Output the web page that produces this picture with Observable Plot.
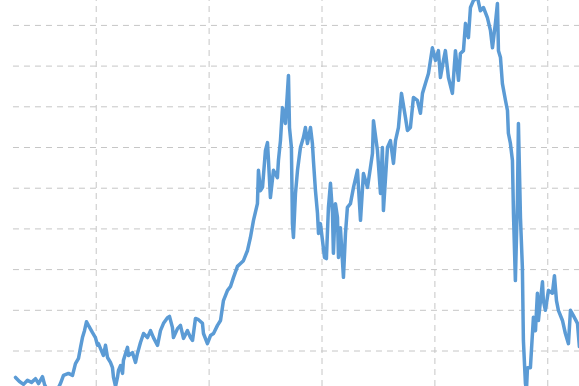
<!DOCTYPE html>
<html>
<head>
<meta charset="utf-8">
<script src="https://cdn.jsdelivr.net/npm/d3@7"></script>
<script src="https://cdn.jsdelivr.net/npm/@observablehq/plot@0.6"></script>
<style>
  html, body { margin: 0; padding: 0; background: #fff; overflow: hidden; }
  #chart svg { display: block; }
</style>
</head>
<body>
<div id="chart"></div>
<script>
// Time (fractional years) of each reading
const years = [
  2003.285, 2003.320, 2003.356, 2003.391, 2003.427, 2003.462, 2003.489, 2003.524, 2003.542, 2003.568,
  2003.613, 2003.648, 2003.683, 2003.710, 2003.754, 2003.790, 2003.816, 2003.843, 2003.861, 2003.878,
  2003.896, 2003.914, 2003.931, 2003.967, 2003.993, 2004.011, 2004.020, 2004.038, 2004.064, 2004.082,
  2004.100, 2004.126, 2004.144, 2004.153, 2004.171, 2004.188, 2004.197, 2004.215, 2004.233, 2004.241,
  2004.277, 2004.286, 2004.321, 2004.348, 2004.365, 2004.392, 2004.419, 2004.454, 2004.481, 2004.507,
  2004.543, 2004.569, 2004.596, 2004.631, 2004.649, 2004.675, 2004.684, 2004.720, 2004.746, 2004.773,
  2004.808, 2004.835, 2004.853, 2004.879, 2004.906, 2004.941, 2004.950, 2004.985, 2005.012, 2005.039,
  2005.074, 2005.101, 2005.127, 2005.163, 2005.189, 2005.216, 2005.251, 2005.278, 2005.304, 2005.340,
  2005.366, 2005.393, 2005.428, 2005.437, 2005.455, 2005.473, 2005.499, 2005.517, 2005.526, 2005.543,
  2005.570, 2005.605, 2005.614, 2005.632, 2005.650, 2005.676, 2005.703, 2005.712, 2005.729, 2005.738,
  2005.747, 2005.765, 2005.783, 2005.809, 2005.836, 2005.853, 2005.871, 2005.898, 2005.915, 2005.924,
  2005.942, 2005.960, 2005.969, 2005.986, 2006.004, 2006.022, 2006.039, 2006.057, 2006.075, 2006.093,
  2006.101, 2006.119, 2006.137, 2006.146, 2006.163, 2006.190, 2006.208, 2006.225, 2006.252, 2006.279,
  2006.314, 2006.341, 2006.367, 2006.403, 2006.429, 2006.447, 2006.456, 2006.491, 2006.518, 2006.535,
  2006.544, 2006.580, 2006.606, 2006.633, 2006.651, 2006.677, 2006.704, 2006.739, 2006.757, 2006.783,
  2006.810, 2006.845, 2006.872, 2006.890, 2006.916, 2006.943, 2006.978, 2007.005, 2007.031, 2007.049,
  2007.076, 2007.093, 2007.120, 2007.155, 2007.182, 2007.209, 2007.226, 2007.253, 2007.271, 2007.297,
  2007.315, 2007.341, 2007.377, 2007.403, 2007.430, 2007.465, 2007.492, 2007.510, 2007.536, 2007.554,
  2007.563, 2007.581, 2007.598, 2007.625, 2007.643, 2007.651, 2007.669, 2007.687, 2007.696, 2007.713,
  2007.731, 2007.740, 2007.758, 2007.775, 2007.784, 2007.802, 2007.811, 2007.820, 2007.846, 2007.873,
  2007.891, 2007.908, 2007.917, 2007.953, 2007.961, 2007.979, 2008.006, 2008.041, 2008.059, 2008.077,
  2008.094, 2008.130, 2008.156, 2008.183, 2008.201, 2008.227, 2008.263, 2008.280
];

// Series values
const values = [
  135, 125, 118, 128, 123, 132, 120, 137, 118, 103,
  96, 100, 120, 140, 145, 140, 169, 182, 209, 233,
  250, 272, 263, 245, 233, 214, 218, 206, 189, 214,
  184, 172, 159, 135, 113, 135, 152, 164, 145, 177,
  209, 189, 196, 172, 194, 221, 243, 233, 250, 233,
  214, 250, 268, 282, 285, 258, 233, 255, 263, 231,
  250, 233, 226, 280, 277, 268, 243, 218, 238, 243,
  263, 275, 324, 349, 358, 381, 408, 415, 422, 447,
  479, 521, 562, 644, 594, 602, 693, 712, 668, 577,
  644, 626, 668, 717, 798, 759, 877, 749, 700, 513,
  479, 587, 644, 700, 725, 749, 710, 749, 710, 668,
  594, 538, 489, 513, 472, 430, 427, 553, 612, 538,
  440, 562, 528, 430, 503, 381, 489, 553, 562, 602,
  644, 521, 636, 602, 651, 685, 766, 693, 587, 700,
  545, 700, 717, 661, 717, 749, 833, 774, 742, 749,
  823, 816, 784, 833, 857, 882, 945, 914, 938, 872,
  914, 938, 872, 833, 938, 865, 931, 938, 1005, 970,
  1044, 1061, 1069, 1036, 1044, 1019, 988, 945, 1005, 1054,
  938, 921, 857, 816, 791, 735, 710, 668, 538, 373,
  570, 759, 528, 405, 226, 120, 103, 159, 159, 283,
  250, 342, 275, 370, 324, 300, 349, 342, 385, 324,
  300, 275, 243, 218, 300, 287, 268, 211
];

// Grid ticks
const xTicks = [2004, 2005, 2006, 2007, 2008];
const yTicks = [200, 300, 400, 500, 600, 700, 800, 900, 1000];

// Visible window of the chart
const xDomain = [2003.152, 2008.281];
const yDomain = [112.8, 1061.2];
const gridStart = 2003.267;

const data = years.map((t, i) => ({t, v: values[i]}));

const chart = Plot.plot({
  width: 579,
  height: 386,
  margin: 0,
  style: {background: "#ffffff"},
  x: {type: "linear", domain: xDomain, range: [0, 579], axis: null},
  y: {type: "linear", domain: yDomain, range: [386, 0], axis: null},
  marks: [
    Plot.ruleY(yTicks, {x1: gridStart, x2: xDomain[1], stroke: "#c6c6c6", strokeWidth: 1, strokeDasharray: "6,5"}),
    Plot.ruleX(xTicks, {y1: yDomain[0], y2: yDomain[1], stroke: "#c6c6c6", strokeWidth: 1, strokeDasharray: "6,5"}),
    Plot.line(data, {x: "t", y: "v", stroke: "#5b9bd5", strokeWidth: 3.5, strokeLinejoin: "round", strokeLinecap: "round", clip: true})
  ]
});

document.getElementById("chart").append(chart);
</script>
</body>
</html>
